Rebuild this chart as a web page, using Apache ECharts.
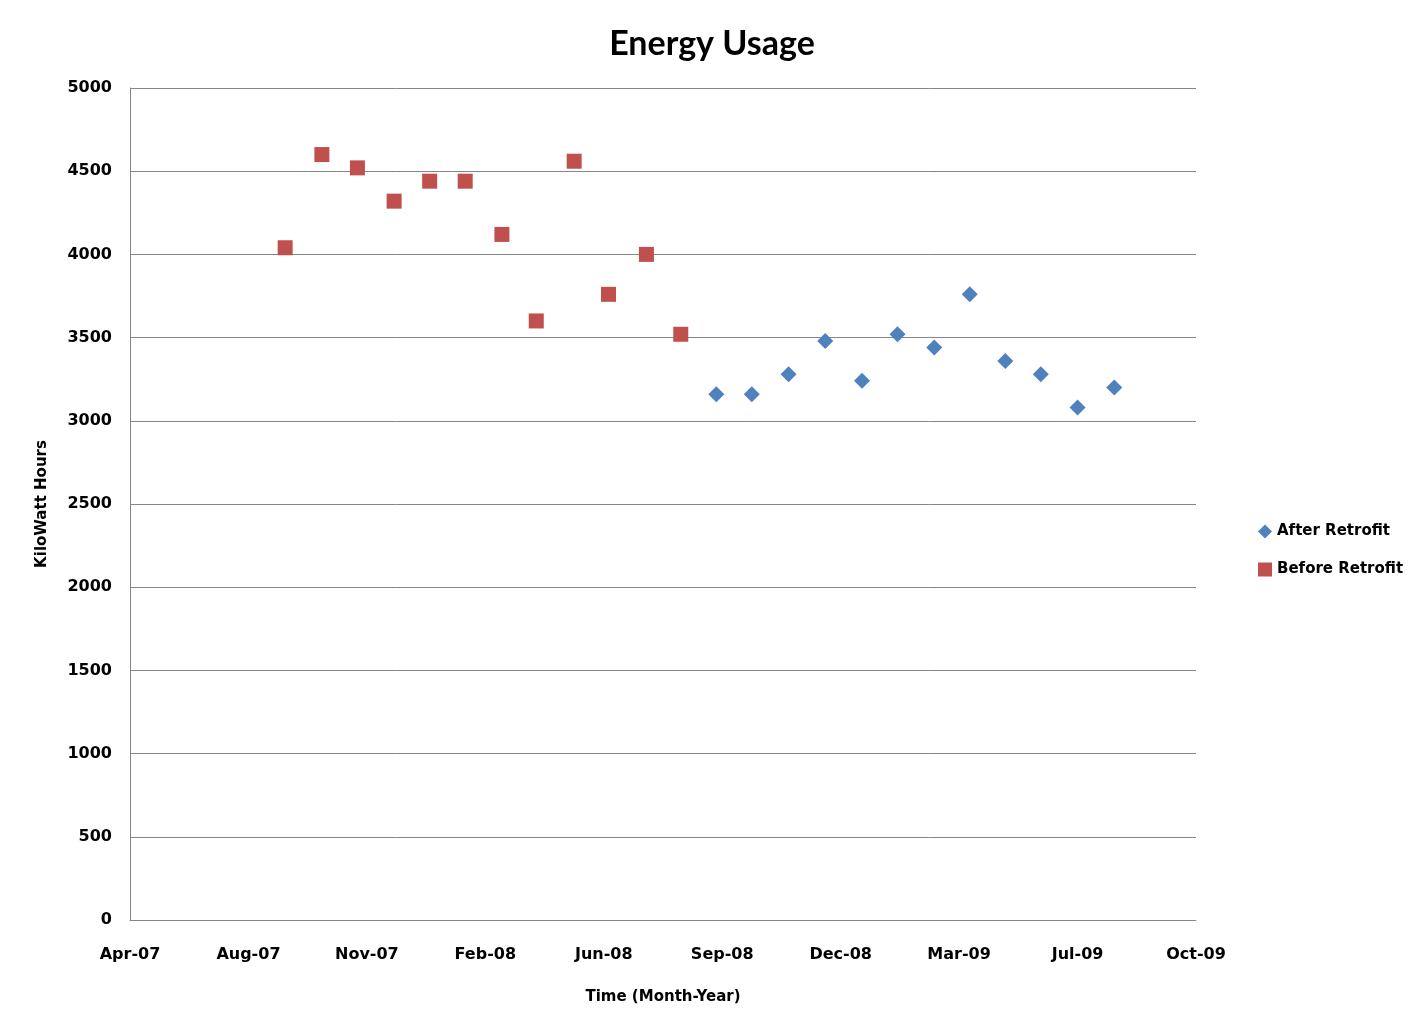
<!DOCTYPE html>
<html>
<head>
<meta charset="utf-8">
<script src="https://cdn.jsdelivr.net/npm/echarts@6/dist/echarts.min.js"></script>
<style>
html,body{margin:0;padding:0;background:#fff;}
#chart{width:1424px;height:1033px;}
</style>
</head>
<body>
<div id="chart"></div>
<script>
var beforeDates = ['2007-09-06','2007-10-07','2007-11-06','2007-12-07','2008-01-06','2008-02-05','2008-03-07','2008-04-05','2008-05-07','2008-06-05','2008-07-07','2008-08-05'];
var beforeValues = [4040,4600,4520,4320,4440,4440,4120,3600,4560,3760,4000,3520];
var afterDates = ['2008-09-04','2008-10-04','2008-11-04','2008-12-05','2009-01-05','2009-02-04','2009-03-07','2009-04-06','2009-05-06','2009-06-05','2009-07-06','2009-08-06'];
var afterValues = [3160,3160,3280,3480,3240,3520,3440,3760,3360,3280,3080,3200];
// x axis in Excel date serials: Apr-07 ... Oct-09, every 100 days
var xMin = 39200, xMax = 40100, xStep = 100;
var yMin = 0, yMax = 5000, yStep = 500;

var MONTHS = ['Jan','Feb','Mar','Apr','May','Jun','Jul','Aug','Sep','Oct','Nov','Dec'];
var EPOCH = Date.UTC(1899,11,30);
function toSerial(s){
  var p = s.split('-');
  return (Date.UTC(+p[0], +p[1]-1, +p[2]) - EPOCH)/86400000;
}
function fmtSerial(v){
  var d = new Date(EPOCH + Math.round(v)*86400000);
  var yy = String(d.getUTCFullYear() % 100);
  if (yy.length < 2) yy = '0' + yy;
  return MONTHS[d.getUTCMonth()] + '-' + yy;
}
function pairs(dates, vals){
  return dates.map(function(d,i){ return [toSerial(d), vals[i]]; });
}

var labelFont = {fontFamily:'DejaVu Sans', fontWeight:'bold', fontSize:16, color:'#000'};
var chart = echarts.init(document.getElementById('chart'));
chart.setOption({
  animation:false,
  title:{
    text:'Energy Usage', left:'center', top:22,
    textStyle:{fontFamily:'Lato', fontWeight:'bold', fontSize:34, color:'#000'}
  },
  grid:{left:130, right:228, top:88, bottom:113, containLabel:false},
  legend:{
    orient:'vertical', left:1253, top:519, itemWidth:14, itemHeight:14, itemGap:23,
    textStyle:{fontFamily:'DejaVu Sans', fontWeight:'bold', fontSize:15, color:'#000'},
    data:['After Retrofit','Before Retrofit']
  },
  xAxis:{
    type:'value', min:xMin, max:xMax, interval:xStep,
    name:'Time (Month-Year)', nameLocation:'middle', nameGap:70,
    nameTextStyle:{fontFamily:'DejaVu Sans', fontWeight:'bold', fontSize:15, color:'#000'},
    axisLine:{show:true, lineStyle:{color:'#868686', width:1}},
    axisTick:{show:false},
    splitLine:{show:false},
    axisLabel:Object.assign({margin:27, formatter:fmtSerial}, labelFont)
  },
  yAxis:{
    type:'value', min:yMin, max:yMax, interval:yStep,
    name:'KiloWatt Hours', nameLocation:'middle', nameGap:80,
    nameTextStyle:{fontFamily:'DejaVu Sans', fontWeight:'bold', fontSize:15, color:'#000'},
    axisLine:{show:true, lineStyle:{color:'#868686', width:1}},
    axisTick:{show:false},
    splitLine:{show:true, lineStyle:{color:'#868686', width:1}},
    axisLabel:Object.assign({margin:18, padding:[4,0,0,0], formatter:function(v){ return String(v); }}, labelFont)
  },
  series:[
    {name:'After Retrofit', type:'scatter', symbol:'diamond', symbolSize:16,
     itemStyle:{color:'#4F81BD', opacity:1}, data:pairs(afterDates, afterValues)},
    {name:'Before Retrofit', type:'scatter', symbol:'rect', symbolSize:15,
     itemStyle:{color:'#C0504D', opacity:1}, data:pairs(beforeDates, beforeValues)}
  ]
});
</script>
</body>
</html>
